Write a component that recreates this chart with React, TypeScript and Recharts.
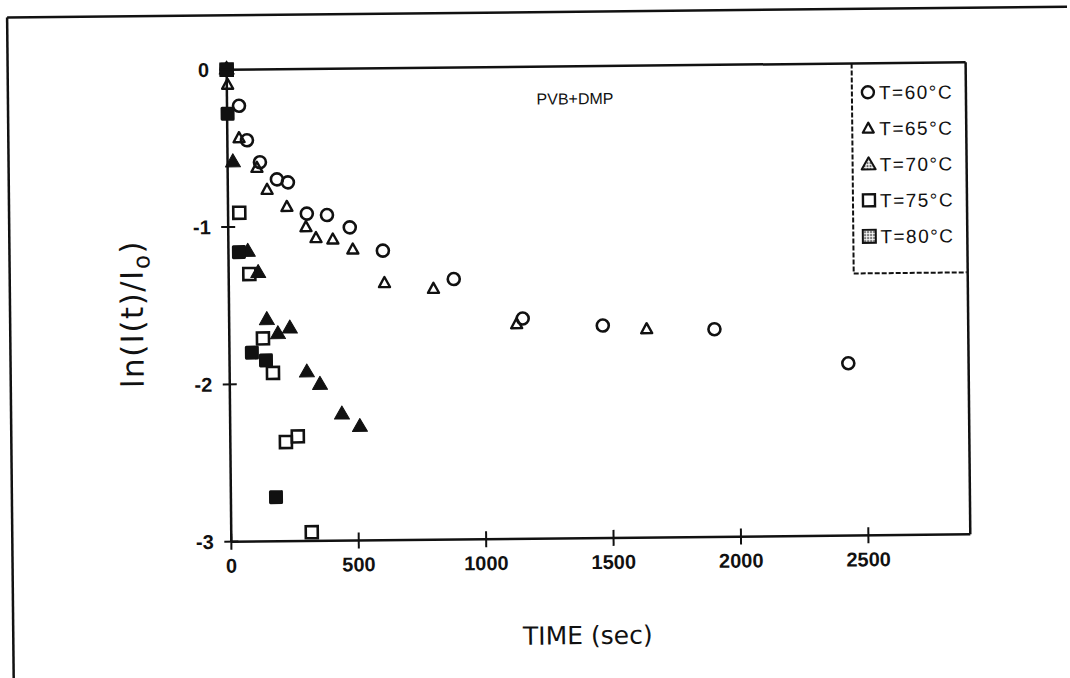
import React from 'react';
import { ScatterChart, Scatter, XAxis, YAxis, ReferenceLine, Legend, Label, Customized } from 'recharts';

const xTicks = [0, 500, 1000, 1500, 2000, 2500];
const yTicks = [-3, -2, -1, 0];
const seriesNames = ['T=60°C', 'T=65°C', 'T=70°C', 'T=75°C', 'T=80°C'];
const chartTitle = 'PVB+DMP';

const t60 = [0, 47, 77, 127, 193, 236, 309, 388, 477, 606, 883, 1152, 1466, 1904, 2428];
const v60 = [0, -0.23, -0.45, -0.59, -0.7, -0.72, -0.92, -0.93, -1.01, -1.16, -1.345, -1.6, -1.65, -1.68, -1.905];

const t65 = [0, 3, 46, 115, 154, 231, 305, 344, 410, 488, 611, 803, 1128, 1638];
const v65 = [0, -0.1, -0.44, -0.63, -0.77, -0.88, -1.01, -1.08, -1.09, -1.155, -1.37, -1.41, -1.64, -1.68];

const t70 = [0, 21, 76, 116, 148, 191, 238, 303, 354, 439, 509];
const v70 = [0, -0.59, -1.16, -1.295, -1.595, -1.685, -1.65, -1.93, -2.01, -2.2, -2.28];

const t75 = [0, 44, 81, 132, 170, 218, 265, 316];
const v75 = [0, -0.91, -1.3, -1.71, -1.93, -2.37, -2.335, -2.945];

const t80 = [0, 2, 41, 88, 143, 177];
const v80 = [0, -0.28, -1.16, -1.8, -1.85, -2.72];

const zip = (ts: number[], vs: number[]) => ts.map((t, i) => ({ t, v: vs[i] }));
const d60 = zip(t60, v60);
const d65 = zip(t65, v65);
const d70 = zip(t70, v70);
const d75 = zip(t75, v75);
const d80 = zip(t80, v80);

const INK = '#111';
const tickFont: React.CSSProperties = {
  fontFamily: "'Liberation Sans Narrow','Liberation Sans',Arial,sans-serif",
  fontWeight: 700,
  fontSize: 20,
  fill: INK,
};
const textFont = "'DejaVu Sans','Liberation Sans',sans-serif";
const sansFont = "'Liberation Sans',Arial,sans-serif";

const triPts = (cx: number, cy: number, w: number, h: number) =>
  `${cx},${cy - (h * 2) / 3} ${cx - w / 2},${cy + h / 3} ${cx + w / 2},${cy + h / 3}`;

const CircleShape = (p: any) => (
  <circle cx={p.cx} cy={p.cy} r={6} fill="none" stroke={INK} strokeWidth={2.6} />
);
const OpenTriShape = (p: any) => (
  <polygon points={triPts(p.cx, p.cy, 11, 10)} fill="none" stroke={INK} strokeWidth={2.4} strokeLinejoin="round" />
);
const FilledTriShape = (p: any) => (
  <polygon points={triPts(p.cx, p.cy, 15, 13)} fill={INK} stroke={INK} strokeWidth={1} strokeLinejoin="round" />
);
const OpenSqShape = (p: any) => (
  <rect x={p.cx - 6} y={p.cy - 6} width={12} height={12} fill="none" stroke={INK} strokeWidth={2.6} />
);
const FilledSqShape = (p: any) => (
  <rect x={p.cx - 7} y={p.cy - 7} width={14} height={14} rx={1.5} fill={INK} />
);

const XTick = (p: any) => (
  <g>
    <line x1={p.x} x2={p.x} y1={p.y - 8} y2={p.y + 8} stroke={INK} strokeWidth={2} />
    <text x={p.x} y={p.y + 31} textAnchor="middle" style={tickFont}>
      {String(p.payload.value)}
    </text>
  </g>
);

const YTick = (p: any) => (
  <g>
    <line x1={p.x - 7} x2={p.x + 7} y1={p.y} y2={p.y} stroke={INK} strokeWidth={2} />
    <text x={p.x - 17.5} y={p.y + 7} textAnchor="end" style={tickFont}>
      {String(p.payload.value)}
    </text>
  </g>
);

const YLabel = (p: any) => {
  const vb = p.viewBox || { x: 169, y: 66, width: 60, height: 472 };
  const x = vb.x + vb.width - 86;
  const y = vb.y + vb.height / 2 + 7.5;
  return (
    <text
      x={x}
      y={y}
      transform={`rotate(-90 ${x} ${y})`}
      textAnchor="middle"
      fontFamily={textFont}
      fontSize={31}
      letterSpacing={1.5}
      fill={INK}
    >
      ln(I(t)/I
      <tspan dy={7} fontSize={23}>o</tspan>
      <tspan dy={-7}>)</tspan>
    </text>
  );
};

const XLabel = (p: any) => {
  const vb = p.viewBox || { x: 229, y: 538, width: 739, height: 40 };
  return (
    <text
      x={vb.x + vb.width / 2 - 14}
      y={vb.y + 106}
      textAnchor="middle"
      fontFamily={textFont}
      fontSize={25}
      fill={INK}
    >
      TIME (sec)
    </text>
  );
};

const Decor = () => (
  <g>
    <line x1={10} y1={11.5} x2={1070} y2={11.5} stroke={INK} strokeWidth={2.5} />
    <line x1={10} y1={11.5} x2={10} y2={678} stroke={INK} strokeWidth={2.5} />
    <text x={577} y={104} textAnchor="middle" fontFamily={sansFont} fontSize={16} fill={INK}>
      {chartTitle}
    </text>
  </g>
);

const LegendBox = () => {
  const rowY = [29, 65, 101, 137, 173];
  const mx = 17;
  const markers = [
    (y: number) => <circle cx={mx} cy={y} r={6} fill="none" stroke={INK} strokeWidth={2.4} />,
    (y: number) => (
      <polygon points={triPts(mx, y + 1, 11, 10)} fill="none" stroke={INK} strokeWidth={2.2} strokeLinejoin="round" />
    ),
    (y: number) => (
      <polygon points={triPts(mx, y + 1, 14, 12)} fill="url(#lgHatch)" stroke={INK} strokeWidth={2} strokeLinejoin="round" />
    ),
    (y: number) => <rect x={mx - 6} y={y - 6} width={12} height={12} fill="none" stroke={INK} strokeWidth={2.4} />,
    (y: number) => <rect x={mx - 6.5} y={y - 6.5} width={13} height={13} fill="url(#lgHatch)" stroke={INK} strokeWidth={2} />,
  ];
  return (
    <svg width={116} height={214} style={{ display: 'block', overflow: 'visible' }}>
      <defs>
        <pattern id="lgHatch" width={3} height={3} patternUnits="userSpaceOnUse">
          <rect width={3} height={3} fill="#fff" />
          <rect width={1.6} height={1.6} fill={INK} />
        </pattern>
      </defs>
      <line x1={1} y1={0} x2={1} y2={210} stroke={INK} strokeWidth={2} strokeDasharray="5 2" />
      <line x1={1} y1={210} x2={114} y2={210} stroke={INK} strokeWidth={2} strokeDasharray="5 2" />
      {seriesNames.map((name, i) => (
        <g key={name}>
          {markers[i](rowY[i])}
          <text x={28} y={rowY[i] + 7} fontFamily={sansFont} fontSize={19} letterSpacing={1.5} fill={INK}>
            {name}
          </text>
        </g>
      ))}
    </svg>
  );
};

export default function App() {
  return (
    <div
      style={{
        position: 'absolute',
        left: 0,
        top: 0,
        width: 1070,
        height: 678,
        background: '#fff',
        transform: 'rotate(-0.57deg)',
        transformOrigin: '600px 305px',
      }}
    >
      <ScatterChart width={1070} height={678} margin={{ top: 66, right: 102, bottom: 100, left: 169 }}>
        <XAxis
          dataKey="t"
          type="number"
          domain={[0, 2900]}
          ticks={xTicks}
          height={40}
          tickSize={0}
          tickMargin={0}
          tickLine={false}
          tick={<XTick />}
          axisLine={{ stroke: INK, strokeWidth: 2.5 }}
          interval={0}
        >
          <Label content={<XLabel />} />
        </XAxis>
        <YAxis
          dataKey="v"
          type="number"
          domain={[-3, 0]}
          ticks={yTicks}
          width={60}
          tickSize={0}
          tickMargin={0}
          tickLine={false}
          tick={<YTick />}
          axisLine={{ stroke: INK, strokeWidth: 2.5 }}
          interval={0}
        >
          <Label content={<YLabel />} />
        </YAxis>
        <ReferenceLine y={0} stroke={INK} strokeWidth={2.5} />
        <ReferenceLine x={2900} stroke={INK} strokeWidth={2.5} />
        <Legend
          layout="horizontal"
          verticalAlign="middle"
          align="center"
          content={<LegendBox />}
          wrapperStyle={{ position: 'absolute', left: 853, top: 66, width: 116, height: 214 }}
        />
        <Scatter name={seriesNames[0]} data={d60} shape={<CircleShape />} isAnimationActive={false} />
        <Scatter name={seriesNames[1]} data={d65} shape={<OpenTriShape />} isAnimationActive={false} />
        <Scatter name={seriesNames[2]} data={d70} shape={<FilledTriShape />} isAnimationActive={false} />
        <Scatter name={seriesNames[3]} data={d75} shape={<OpenSqShape />} isAnimationActive={false} />
        <Scatter name={seriesNames[4]} data={d80} shape={<FilledSqShape />} isAnimationActive={false} />
        <Customized component={<Decor />} />
      </ScatterChart>
    </div>
  );
}
